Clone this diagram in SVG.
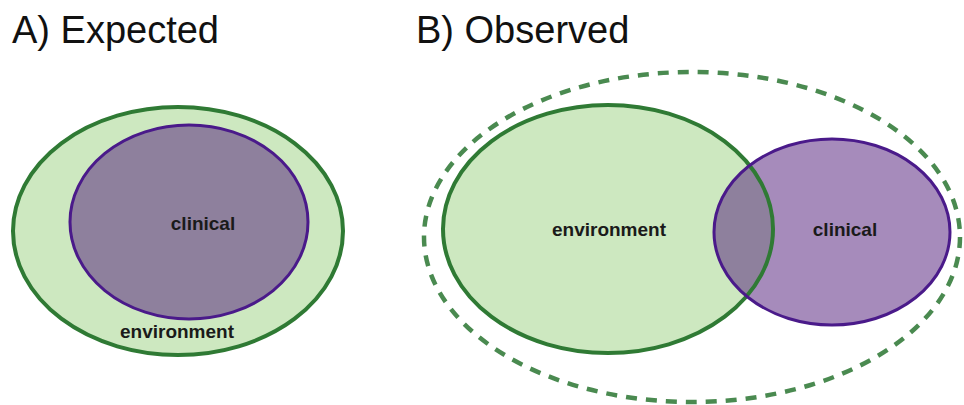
<svg xmlns="http://www.w3.org/2000/svg" width="964" height="405" viewBox="0 0 964 405">
<style>
.title{font-family:"Liberation Sans",Arial,sans-serif;font-size:38px;fill:#111}
.lbl{font-family:"Liberation Sans",Arial,sans-serif;font-size:19px;font-weight:bold;fill:#1a1a1a;text-anchor:middle}
.envfill{fill:#cde8c0}
.envstroke{fill:none;stroke:#2f7a34;stroke-width:4}
.clinfill{fill:#54207c;fill-opacity:0.52}
.clinstroke{fill:none;stroke:#4a1a8a;stroke-width:3}
.dash{fill:none;stroke:#4a8a50;stroke-width:4.5;stroke-dasharray:11 9}
</style>
<rect width="964" height="405" fill="#ffffff"/>
<text class="title" x="12" y="43">A) Expected</text>
<text class="title" x="416" y="43">B) Observed</text>
<g id="A-environment">
<ellipse class="envfill" cx="178" cy="231" rx="165" ry="124"/>
</g>
<g id="A-clinical">
<ellipse class="clinfill" cx="189" cy="222" rx="119" ry="97"/>
</g>
<ellipse class="envstroke" cx="178" cy="231" rx="165" ry="124"/>
<ellipse class="clinstroke" cx="189" cy="222" rx="119" ry="97"/>
<text class="lbl" x="203" y="230">clinical</text>
<text class="lbl" x="177" y="338">environment</text>
<g id="B-observed">
<ellipse class="dash" cx="692" cy="237" rx="268" ry="165"/>
</g>
<g id="B-environment">
<ellipse class="envfill" cx="608" cy="229" rx="165" ry="124"/>
</g>
<g id="B-clinical">
<ellipse class="clinfill" cx="832" cy="232" rx="118" ry="93"/>
</g>
<ellipse class="envstroke" cx="608" cy="229" rx="165" ry="124"/>
<ellipse class="clinstroke" cx="832" cy="232" rx="118" ry="93"/>
<text class="lbl" x="609" y="236">environment</text>
<text class="lbl" x="845" y="236">clinical</text>
<g id="connectors"></g>
</svg>
